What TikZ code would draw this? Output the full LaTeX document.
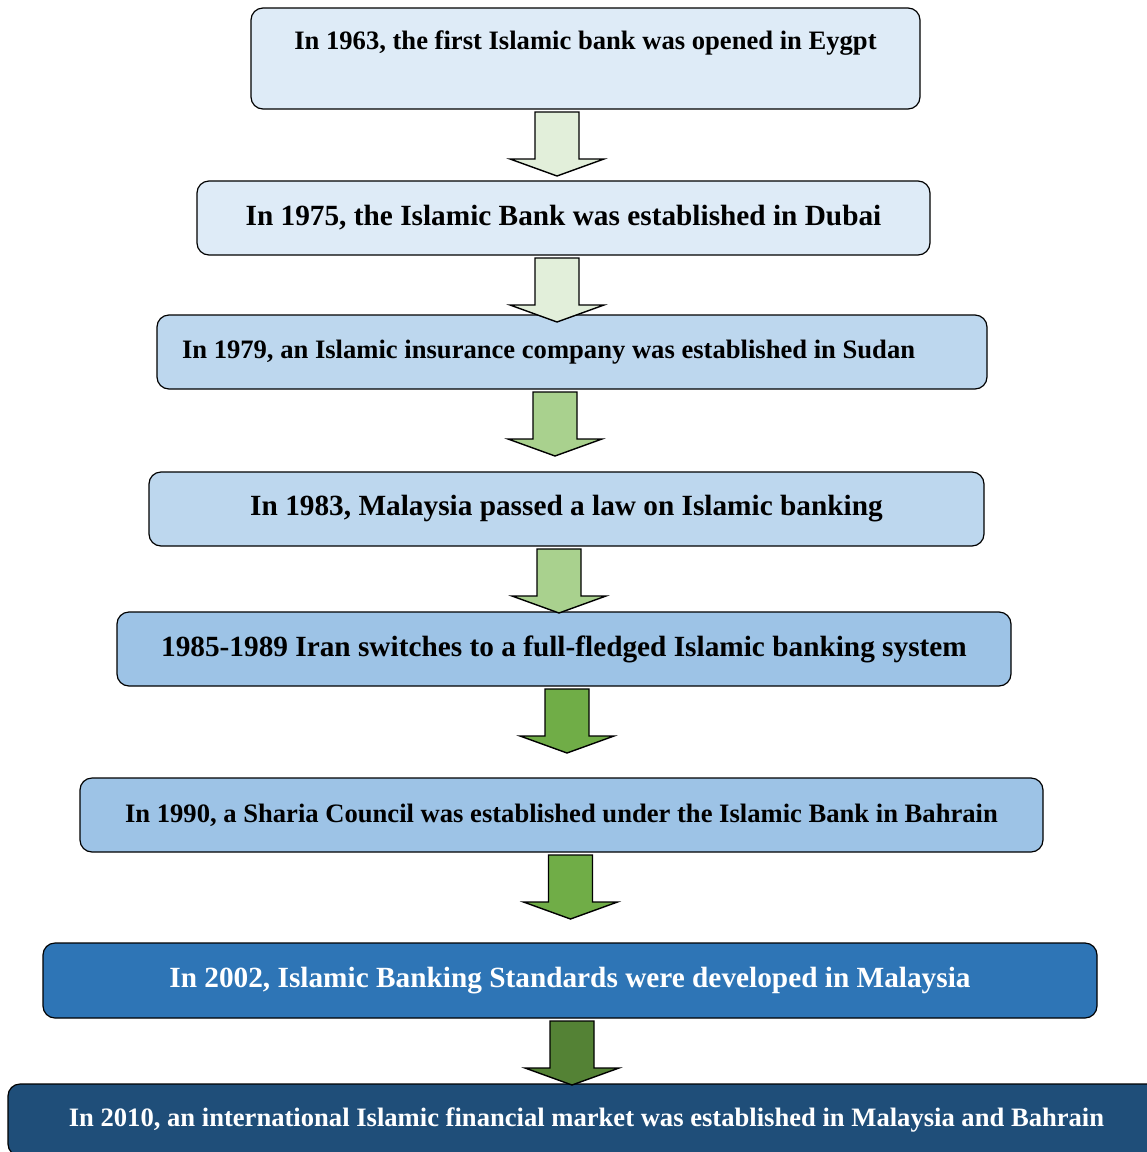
\documentclass[tikz,border=0pt]{standalone}
\usepackage{fontspec}
\setmainfont{Liberation Serif}
\usetikzlibrary{positioning}
\definecolor{ice}{HTML}{DEEBF7}
\definecolor{pale}{HTML}{BDD7EE}
\definecolor{steel}{HTML}{9DC3E6}
\definecolor{azure}{HTML}{2E75B6}
\definecolor{navy}{HTML}{1F4E79}
\definecolor{sprout}{HTML}{E2EFDA}
\definecolor{leaf}{HTML}{A9D18E}
\definecolor{grass}{HTML}{70AD47}
\definecolor{moss}{HTML}{548235}
\tikzset{
  box/.style={rounded corners=12pt,draw=black,line width=1.2pt,fill=ice,align=center,
    inner sep=0pt,outer sep=0pt,minimum height=74pt,font=\bfseries\fontsize{26.6}{30}\selectfont},
  bigbox/.style={box,font=\bfseries\fontsize{29.3}{33}\selectfont},
  palebox/.style={box,fill=pale},
  steelbox/.style={box,fill=steel},
  darkbox/.style={bigbox,fill=azure,text=white},
  navybox/.style={box,fill=navy,text=white},
  blockarrow/.style={draw=black,line width=1.4pt,line join=miter}
}
% block arrow hanging below a box: x centre, upper box, fill
\newcommand{\stagearrow}[3]{%
  \draw[blockarrow,fill=#3] (#1,0 |- #2.south) ++(-22,-3) -- ++(0,-47) -- ++(-25,0)
    -- ++(47,-17) -- ++(47,17) -- ++(-25,0) -- ++(0,47) -- cycle;
}

\begin{document}
\begin{tikzpicture}[x=1pt,y=1pt]
  \useasboundingbox (0,0) rectangle (1147,-1152);
  \node[box,anchor=north,minimum width=669pt,minimum height=101pt,text height=41pt,text depth=60pt]
    (y1963) at (585.5,-8) {In 1963, the first Islamic bank was opened in Eygpt};
  \node[bigbox,below=72pt of y1963,xshift=-22pt,minimum width=733pt] (y1975)
    {In 1975, the Islamic Bank was established in Dubai};
  \node[palebox,below=60pt of y1975,xshift=8.5pt,minimum width=830pt,text width=780pt,align=flush left] (y1979)
    {In 1979, an Islamic insurance company was established in Sudan};
  \node[palebox,bigbox,fill=pale,below=83pt of y1979,xshift=-5.5pt,minimum width=835pt] (y1983)
    {In 1983, Malaysia passed a law on Islamic banking};
  \node[steelbox,bigbox,fill=steel,below=66pt of y1983,xshift=-2.5pt,minimum width=894pt] (y1985)
    {1985-1989 Iran switches to a full-fledged Islamic banking system};
  \node[steelbox,below=92pt of y1985,xshift=-2.5pt,minimum width=963pt] (y1990)
    {In 1990, a Sharia Council was established under the Islamic Bank in Bahrain};
  \node[darkbox,below=91pt of y1990,xshift=8.5pt,minimum width=1054pt,minimum height=75pt] (y2002)
    {In 2002, Islamic Banking Standards were developed in Malaysia};
  \node[navybox,below=66pt of y2002,xshift=16.5pt,minimum width=1157pt,minimum height=72pt] (y2010)
    {In 2010, an international Islamic financial market was established in Malaysia and Bahrain};

  \stagearrow{557}{y1963}{sprout}
  \stagearrow{557}{y1975}{sprout}
  \stagearrow{555}{y1979}{leaf}
  \stagearrow{559}{y1983}{leaf}
  \stagearrow{567}{y1985}{grass}
  \stagearrow{570.5}{y1990}{grass}
  \stagearrow{572}{y2002}{moss}
\end{tikzpicture}
\end{document}
